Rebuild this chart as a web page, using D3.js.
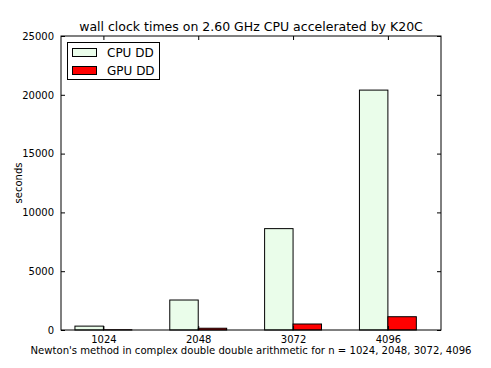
<!DOCTYPE html>
<html>
<head>
<meta charset="utf-8">
<script src="https://cdnjs.cloudflare.com/ajax/libs/d3/7.8.5/d3.min.js"></script>
<style>
  body { margin: 0; background: #fff; }
  svg text { font-family: "DejaVu Sans", sans-serif; fill: #000; }
</style>
</head>
<body>
<div id="vis"></div>
<script>
// data
const sizes = ["1024", "2048", "3072", "4096"];
const cpuTimes = [330, 2550, 8620, 20400];
const gpuTimes = [20, 150, 510, 1130];
const seriesNames = ["CPU DD", "GPU DD"];
const yTicks = [0, 5000, 10000, 15000, 20000, 25000];

const FRAME_WIDTH = 491;
const FRAME_HEIGHT = 368;
const MARGINS = {left: 61, right: 50, top: 36, bottom: 38};
const BAR_W = 0.3;
const CPU_FILL = "#eafdea";
const GPU_FILL = "#ff0000";

const svg = d3.select("#vis")
  .append("svg")
  .attr("width", FRAME_WIDTH)
  .attr("height", FRAME_HEIGHT);

const xScale = d3.scaleLinear()
  .domain([-0.147, 3.86])
  .range([MARGINS.left, FRAME_WIDTH - MARGINS.right]);

const yScale = d3.scaleLinear()
  .domain([0, 25000])
  .range([FRAME_HEIGHT - MARGINS.bottom, MARGINS.top]);

const x0 = MARGINS.left, x1 = FRAME_WIDTH - MARGINS.right;
const y0 = FRAME_HEIGHT - MARGINS.bottom, y1 = MARGINS.top;

// bars
const g = svg.append("g");
g.selectAll("rect.cpu")
  .data(cpuTimes)
  .enter()
  .append("rect")
  .attr("class", "cpu")
  .attr("x", (d, i) => xScale(i))
  .attr("y", d => yScale(d))
  .attr("width", xScale(BAR_W) - xScale(0))
  .attr("height", d => yScale(0) - yScale(d))
  .attr("fill", CPU_FILL)
  .attr("stroke", "#000")
  .attr("stroke-width", 1);

g.selectAll("rect.gpu")
  .data(gpuTimes)
  .enter()
  .append("rect")
  .attr("class", "gpu")
  .attr("x", (d, i) => xScale(i + BAR_W))
  .attr("y", d => yScale(d))
  .attr("width", xScale(BAR_W) - xScale(0))
  .attr("height", d => yScale(0) - yScale(d))
  .attr("fill", GPU_FILL)
  .attr("stroke", "#000")
  .attr("stroke-width", 1);

// axes, matplotlib style ticks pointing inward
const tickPos = sizes.map((s, i) => i + BAR_W);

svg.append("g")
  .attr("transform", `translate(0, ${y0})`)
  .call(d3.axisBottom(xScale).tickValues(tickPos).tickFormat((d, i) => sizes[i]).tickSizeInner(-4).tickSizeOuter(0).tickPadding(6))
  .call(a => a.select(".domain").remove())
  .selectAll("text").attr("font-size", "10px");

svg.append("g")
  .attr("transform", `translate(0, ${y1})`)
  .call(d3.axisTop(xScale).tickValues(tickPos).tickFormat("").tickSizeInner(-4).tickSizeOuter(0))
  .call(a => a.select(".domain").remove());

svg.append("g")
  .attr("transform", `translate(${x0}, 0)`)
  .call(d3.axisLeft(yScale).tickValues(yTicks).tickFormat(d3.format("d")).tickSizeInner(-4).tickSizeOuter(0).tickPadding(7))
  .call(a => a.select(".domain").remove())
  .selectAll("text").attr("font-size", "10px");

svg.append("g")
  .attr("transform", `translate(${x1}, 0)`)
  .call(d3.axisRight(yScale).tickValues(yTicks).tickFormat("").tickSizeInner(-4).tickSizeOuter(0))
  .call(a => a.select(".domain").remove());

svg.selectAll(".tick line").attr("stroke", "#000");
svg.selectAll(".tick text").attr("font-family", "DejaVu Sans, sans-serif").attr("fill", "#000");

// frame
svg.append("rect")
  .attr("x", x0)
  .attr("y", y1)
  .attr("width", x1 - x0)
  .attr("height", y0 - y1)
  .attr("fill", "none")
  .attr("stroke", "#000")
  .attr("stroke-width", 1);

// title and labels
svg.append("text")
  .attr("x", (x0 + x1) / 2)
  .attr("y", 31)
  .attr("text-anchor", "middle")
  .attr("font-size", "12.5px")
  .text("wall clock times on 2.60 GHz CPU accelerated by K20C");

svg.append("text")
  .attr("x", (x0 + x1) / 2)
  .attr("y", 354)
  .attr("text-anchor", "middle")
  .attr("font-size", "10.1px")
  .text("Newton's method in complex double double arithmetic for n = 1024, 2048, 3072, 4096");

svg.append("text")
  .attr("transform", `translate(22, ${(y0 + y1) / 2}) rotate(-90)`)
  .attr("text-anchor", "middle")
  .attr("font-size", "10px")
  .text("seconds");

// legend
const legend = svg.append("g");
legend.append("rect")
  .attr("x", 67.5)
  .attr("y", 42.5)
  .attr("width", 92)
  .attr("height", 37)
  .attr("fill", "#fff")
  .attr("stroke", "#000")
  .attr("stroke-width", 1);

const fills = [CPU_FILL, GPU_FILL];
seriesNames.forEach((name, i) => {
  legend.append("rect")
    .attr("x", 72.5)
    .attr("y", 48.5 + i * 18)
    .attr("width", 24)
    .attr("height", 8)
    .attr("fill", fills[i])
    .attr("stroke", "#000")
    .attr("stroke-width", 1);
  legend.append("text")
    .attr("x", 107)
    .attr("y", 57 + i * 18)
    .attr("font-size", "12px")
    .text(name);
});
</script>
</body>
</html>
